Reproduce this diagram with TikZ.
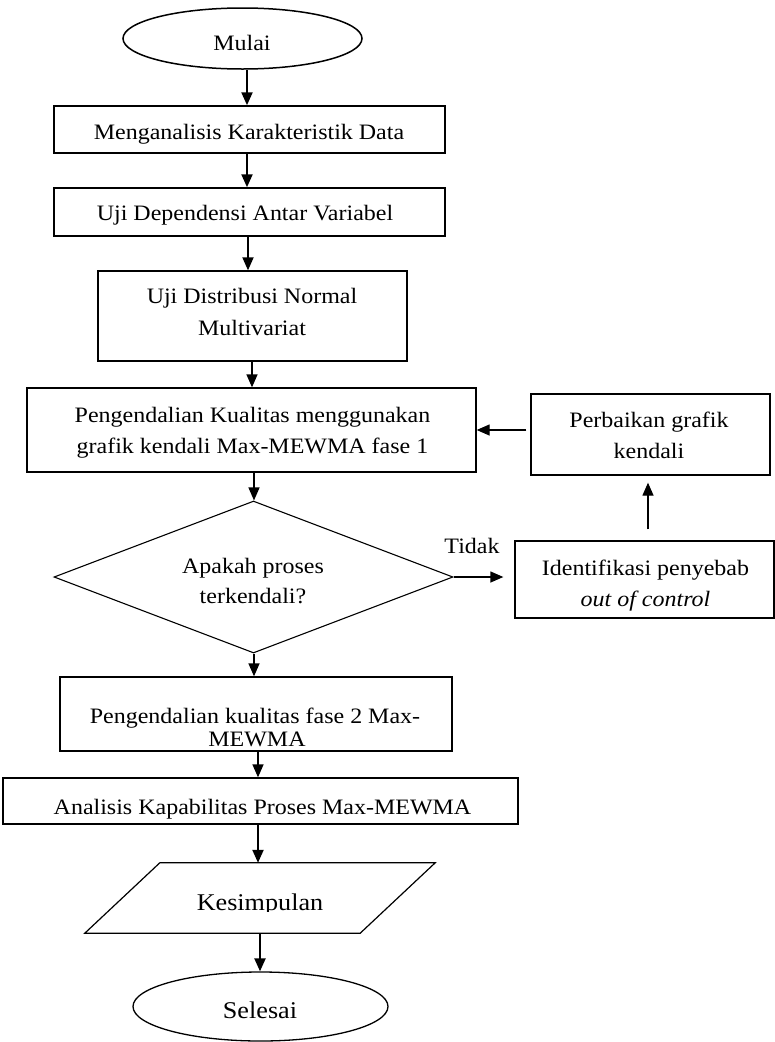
\documentclass[tikz,border=0pt]{standalone}
\usepackage{fontspec}
\setmainfont{Liberation Serif}[FakeStretch=1.09]
\usetikzlibrary{arrows.meta,shapes.geometric}
\begin{document}
\begin{tikzpicture}[x=1pt,y=-1pt,
  box/.style={draw, line width=1.3pt, inner sep=0pt},
  txt/.style={anchor=base, inner sep=0pt, font=\fontsize{22}{26}\selectfont},
  big/.style={anchor=base, inner sep=0pt, font=\fontsize{24}{28}\selectfont},
  arr/.style={-{Triangle[width=11pt,length=13pt]}, line width=1.3pt},
  thk/.style={line width=2.2pt}]
\useasboundingbox (0,0) rectangle (775,1042);

% shapes
\node[box, ellipse, line width=1.5pt, minimum width=239pt, minimum height=61pt] (mulai) at (242.5,38.5) {};
\node[box, line width=1.5pt, minimum width=391pt, minimum height=47pt] (b1) at (249.5,129.5) {};
\node[box, line width=1.5pt, minimum width=391pt, minimum height=48pt] (b2) at (249.5,212) {};
\node[box, minimum width=309pt, minimum height=90pt] (b3) at (252.5,316) {};
\node[box, minimum width=449pt, minimum height=84pt] (b4) at (251.5,430) {};
\node[box, diamond, line width=1.1pt, minimum width=399pt, minimum height=152pt] (dia) at (253.5,577) {};
\node[box, minimum width=392pt, minimum height=74pt] (b6) at (256,714) {};
\node[box, minimum width=515pt, minimum height=46pt] (b7) at (260.5,801) {};
\node[inner sep=0pt, minimum width=275pt, minimum height=70pt] (kes) at (260,898) {};
\draw[line width=1.2pt] ([xshift=-37.5pt]kes.south west) -- ([xshift=-37.5pt]kes.south east)
  -- ([xshift=37.5pt]kes.north east) -- ([xshift=37.5pt]kes.north west) -- cycle;
\node[box, ellipse, line width=1.3pt, minimum width=255pt, minimum height=69pt] (sel) at (260.5,1006.5) {};
\node[box, minimum width=239pt, minimum height=81pt] (perb) at (650.5,434.5) {};
\node[box, minimum width=259pt, minimum height=77pt] (ident) at (644.5,579.5) {};

% texts
\node[txt] (tmulai) at (242,50) {Mulai};
\node[txt] (tb1) at (249,139) {Menganalisis Karakteristik Data};
\node[txt] (tb2) at (245,220) {Uji Dependensi Antar Variabel};
\node[txt] (tb3a) at (252,303) {Uji Distribusi Normal};
\node[txt] (tb3b) at (252,335) {Multivariat};
\node[txt] (tb4a) at (252.5,422) {Pengendalian Kualitas menggunakan};
\node[txt] (tb4b) at (252.5,453) {grafik kendali Max-MEWMA fase 1};
\node[txt] (tdiaa) at (253,573) {Apakah proses};
\node[txt] (tdiab) at (253,603) {terkendali?};
\node[txt] (tb6a) at (255,723) {Pengendalian kualitas fase 2 Max-};
\begin{scope}
  \clip (b6.north west) rectangle ([yshift=5.5pt]b6.south east);
  \node[txt] (tb6b) at (257,746) {MEWMA};
\end{scope}
\node[txt] (tb7) at (262.5,814) {Analisis Kapabilitas Proses Max-MEWMA};
\begin{scope}
  \clip ([xshift=-40pt]kes.north west) rectangle ([xshift=40pt,yshift=21.5pt]kes.south east);
  \node[big] (tkes) at (260,910) {Kesimpulan};
\end{scope}
\node[big] (tsel) at (260,1018) {Selesai};
\node[txt] (tperba) at (649,427) {Perbaikan grafik};
\node[txt] (tperbb) at (649,458) {kendali};
\node[txt] (tidenta) at (645.5,575) {Identifikasi penyebab};
\node[txt] (tidentb) at (645.5,606) {\itshape out of control};
\node[txt] (tidak) at (472,553) {Tidak};

% connectors
\draw[arr,thk] ([xshift=4.5pt]mulai.south) -- ([xshift=-2.5pt]b1.north);
\draw[arr,thk] ([xshift=-2.5pt]b1.south) -- ([xshift=-2.5pt]b2.north);
\draw[arr,line width=1.8pt] ([xshift=-1.5pt]b2.south) -- ([xshift=-4.5pt]b3.north);
\draw[arr] ([xshift=-0.5pt]b3.south) -- ([xshift=0.5pt]b4.north);
\draw[arr] ([xshift=2.5pt]b4.south) -- ([xshift=0.5pt]dia.north);
\draw[arr] ([xshift=0.5pt]dia.south) -- ([xshift=-2pt]b6.north);
\draw[arr] ([xshift=2pt]b6.south) -- ([xshift=-2.5pt]b7.north);
\draw[arr,thk] ([xshift=-2.5pt]b7.south) -- ([xshift=-2pt]kes.north);
\draw[arr,thk] (kes.south) -- ([xshift=-0.5pt]sel.north);
\draw[arr, shorten >=11pt] (dia.east) -- (dia.east -| ident.west);
\draw[arr, shorten <=11pt, shorten >=7pt] ([xshift=3.5pt]ident.north) -- ([xshift=-2.5pt]perb.south);
\draw[arr, shorten <=4pt] (perb.west |- b4.east) -- (b4.east);
\end{tikzpicture}
\end{document}
